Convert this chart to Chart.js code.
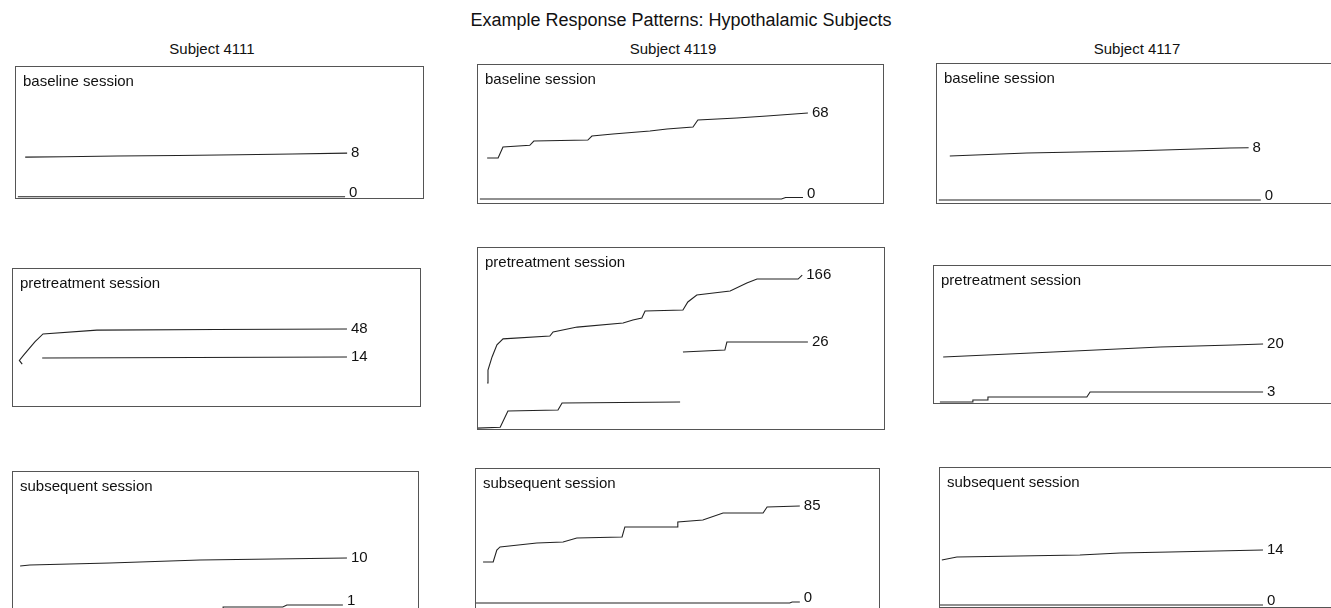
<!DOCTYPE html>
<html>
<head>
<meta charset="utf-8">
<script src="https://cdn.jsdelivr.net/npm/chart.js@4"></script>
<style>
  html, body { margin: 0; padding: 0; background: #fff; }
  #page { position: relative; width: 1331px; height: 608px; overflow: hidden; font-family: "Liberation Sans", Arial, sans-serif; color: #111; }
  .txt { position: absolute; white-space: nowrap; transform: translate(-50%, -50%); }
  .panel { position: absolute; }
</style>
</head>
<body>
<div id="page"></div>
<script>
// Text
const figTitle = "Example Response Patterns: Hypothalamic Subjects";
const subjects = ["Subject 4111", "Subject 4119", "Subject 4117"];
const sessions = ["baseline session", "pretreatment session", "subsequent session"];

// Totals printed at the end of each trace, [upper, lower]; rows = sessions
const totals4111 = [[8, 0], [48, 14], [10, 1]];
const totals4119 = [[68, 0], [166, 26], [85, 0]];
const totals4117 = [[8, 0], [20, 3], [14, 0]];

// Cumulative record traces: [session time %, pen height %], null = pen reset
const s4111BaseUpper = [[2.5, 31], [12, 31.3], [25, 31.8], [40, 32.2], [55, 32.8], [68, 33.3], [81.4, 34]];
const s4111BaseLower = [[0.7, 1], [80.9, 1]];
const s4111PreUpper = [[2.5, 30.4], [1.8, 33], [2.9, 37], [5.6, 46.4], [7.6, 52.2], [20.8, 55], [50, 55.4], [82.1, 55.8]];
const s4111PreLower = [[7.4, 34.8], [45, 35.1], [82.1, 35.5]];
const s4111SubUpper = [[2, 32.1], [4.4, 32.9], [24.1, 34.3], [46.3, 36.4], [82.5, 37.9]];
const s4111SubLower = [[2, 1], [52, 1], [52, 2.9], [66.7, 2.9], [67.7, 4.3], [81.5, 4.3]];

const s4119BaseUpper = [[2.5, 32.4], [5.2, 32.4], [6.4, 40.3], [13, 41.5], [14, 44.6], [27.3, 45.3], [28.3, 48.2],
  [33.5, 49.6], [42.6, 51.8], [46.8, 53.2], [53.2, 54.7], [54.4, 59.7], [64, 61.2], [71.4, 62.6], [81.5, 64.7]];
const s4119BaseLower = [[0.7, 2.9], [75, 2.9], [76, 4], [80.3, 4]];
const s4119PreUpper = [[2.5, 25.3], [2.7, 32.4], [3.7, 39.6], [4.9, 46.2], [6.4, 49.5], [17.9, 51.1], [18.7, 53.3],
  [24.6, 56], [35.9, 58.2], [38.3, 59.9], [40.5, 61], [41.3, 64.8], [50.6, 65.4], [51.8, 69.8], [54, 73.6],
  [62.2, 75.8], [66.3, 80.2], [68.8, 82.4], [78.9, 82.4], [79.9, 84.6]];
const s4119PreLower = [[0, 0.5], [5.7, 1], [7.6, 9.9], [19.9, 10.4], [20.9, 14.3], [49.9, 14.8], [50.2, null], [50.6, 42.3],
  [60.9, 43.4], [61.4, 47.8], [81.3, 47.8]];
const s4119SubUpper = [[2, 32.9], [4.5, 32.9], [5.4, 41.4], [6.2, 43.6], [15.3, 46.4], [21.8, 47.1], [25.2, 50],
  [36.4, 50.7], [37.1, 57.9], [50, 57.9], [50.2, 61.4], [56.4, 62.9], [61.4, 67.9], [71.3, 67.9], [72.3, 72.1], [80.4, 72.9]];
const s4119SubLower = [[0, 3.6], [77.9, 3.6], [78.5, 4.3], [80.4, 4.3]];

const s4117BaseUpper = [[3.4, 33.6], [22.4, 35.7], [47.8, 37.1], [72.4, 39.3], [77, 39.5]];
const s4117BaseLower = [[0.7, 2.1], [80, 2.1]];
const s4117PreUpper = [[2.5, 33.3], [29.5, 37], [55.8, 40.6], [73.7, 42], [81.1, 42.8]];
const s4117PreLower = [[1.7, 0.7], [9.8, 0.7], [9.8, 2.2], [13.5, 2.2], [13.5, 4.3], [37.8, 4.3], [38.6, 8], [81.1, 8]];
const s4117SubUpper = [[0.7, 33.6], [4.4, 35.7], [34.7, 37.1], [44.6, 38.6], [56.9, 39.3], [79.8, 40.7]];
const s4117SubLower = [[0, 1.4], [79.8, 1.4]];

// Panel boxes on the page (left, top, width, height)
const panels = [
  { box: [15, 66, 408, 132], title: sessions[0], totals: totals4111[0], traces: [s4111BaseUpper, s4111BaseLower] },
  { box: [477, 64, 406, 139], title: sessions[0], totals: totals4119[0], traces: [s4119BaseUpper, s4119BaseLower] },
  { box: [936, 63, 406, 140], title: sessions[0], totals: totals4117[0], traces: [s4117BaseUpper, s4117BaseLower] },
  { box: [12, 268, 408, 138], title: sessions[1], totals: totals4111[1], traces: [s4111PreUpper, s4111PreLower] },
  { box: [477, 247, 407, 182], title: sessions[1], totals: totals4119[1], traces: [s4119PreUpper, s4119PreLower] },
  { box: [933, 265, 407, 138], title: sessions[1], totals: totals4117[1], traces: [s4117PreUpper, s4117PreLower] },
  { box: [12, 471, 406, 140], title: sessions[2], totals: totals4111[2], traces: [s4111SubUpper, s4111SubLower] },
  { box: [475, 468, 404, 140], title: sessions[2], totals: totals4119[2], traces: [s4119SubUpper, s4119SubLower] },
  { box: [939, 467, 406, 140], title: sessions[2], totals: totals4117[2], traces: [s4117SubUpper, s4117SubLower] }
];

const page = document.getElementById("page");
const FONT = '"Liberation Sans", Arial, sans-serif';

function addText(str, x, y, size) {
  const el = document.createElement("div");
  el.className = "txt";
  el.style.left = x + "px";
  el.style.top = y + "px";
  el.style.fontSize = size + "px";
  el.textContent = str;
  page.appendChild(el);
}

addText(figTitle, 681, 20, 18);
const headerX = [212, 673, 1137];
subjects.forEach((s, i) => addText(s, headerX[i], 48, 15));

// Draws the box, the session name and the end totals
const panelDecor = {
  id: "panelDecor",
  afterDraw(chart, args, opts) {
    const ctx = chart.ctx;
    const a = chart.chartArea;
    ctx.save();
    ctx.strokeStyle = "#555";
    ctx.lineWidth = 1;
    ctx.strokeRect(Math.round(a.left) + 0.5, Math.round(a.top) + 0.5, Math.round(a.right - a.left), Math.round(a.bottom - a.top));

    ctx.fillStyle = "#111";
    ctx.font = "15px " + FONT;
    ctx.textBaseline = "middle";
    ctx.textAlign = "left";
    ctx.fillText(opts.title, a.left + 8, a.top + 16);

    opts.totals.forEach((t, i) => {
      const pts = chart.getDatasetMeta(i).data;
      const last = pts[pts.length - 1];
      ctx.fillText(String(t), last.x + 4, last.y - (last.y > a.bottom - 8 ? 4 : 0));
    });
    ctx.restore();
  }
};

const PAD = 12;
panels.forEach((p) => {
  const [left, top, w, h] = p.box;
  const holder = document.createElement("div");
  holder.className = "panel";
  holder.style.left = (left - PAD) + "px";
  holder.style.top = (top - PAD) + "px";
  const canvas = document.createElement("canvas");
  canvas.width = w + PAD * 2;
  canvas.height = h + PAD * 2;
  holder.appendChild(canvas);
  page.appendChild(holder);

  new Chart(canvas, {
    type: "line",
    data: {
      datasets: p.traces.map((tr) => ({
        data: tr.map((pt) => ({ x: pt[0], y: pt[1] })),
        borderColor: "#222",
        borderWidth: 1.1,
        pointRadius: 0,
        tension: 0,
        fill: false,
        spanGaps: false
      }))
    },
    options: {
      responsive: false,
      animation: false,
      events: [],
      layout: { padding: PAD },
      plugins: {
        legend: { display: false },
        tooltip: { enabled: false },
        panelDecor: { title: p.title, totals: p.totals }
      },
      scales: {
        x: { type: "linear", min: 0, max: 100, display: false },
        y: { type: "linear", min: 0, max: 100, display: false }
      }
    },
    plugins: [panelDecor]
  });
});
</script>
</body>
</html>
